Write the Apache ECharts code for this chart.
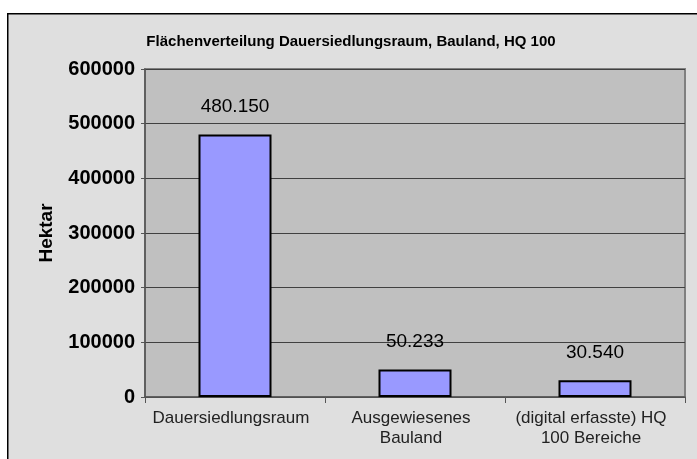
<!DOCTYPE html>
<html>
<head>
<meta charset="utf-8">
<script src="https://cdn.jsdelivr.net/npm/echarts@6/dist/echarts.min.js"></script>
<style>
  html, body { margin: 0; padding: 0; background: #ffffff; }
  #chart { width: 697px; height: 459px; }
</style>
</head>
<body>
<div id="chart"></div>
<script>
const categories = ['Dauersiedlungsraum', 'Ausgewiesenes\nBauland', '(digital erfasste) HQ\n100 Bereiche'];
const hektar = [480150, 50233, 30540];
const yTicks = [0, 100000, 200000, 300000, 400000, 500000, 600000];

// 480150 -> "480.150"
function germanNumber(v) {
  return String(v).replace(/\B(?=(\d{3})+(?!\d))/g, '.');
}

const chart = echarts.init(document.getElementById('chart'));
chart.setOption({
  backgroundColor: '#ffffff',
  animation: false,
  graphic: [{
    type: 'rect',
    left: 7, top: 13,
    shape: { width: 700, height: 460 },
    style: { fill: '#dfdfdf', stroke: '#000000', lineWidth: 1.5 },
    z: -10
  }],
  title: {
    text: 'Flächenverteilung Dauersiedlungsraum, Bauland, HQ 100',
    left: 346, top: 29, textAlign: 'center',
    textStyle: {
      fontFamily: 'Liberation Sans, Arial',
      fontWeight: 'bold', fontSize: 15, color: '#000'
    }
  },
  grid: {
    left: 145, right: 12, top: 69, bottom: 62,
    show: true, backgroundColor: '#c0c0c0',
    borderColor: '#808080', borderWidth: 2
  },
  xAxis: {
    type: 'category',
    data: categories,
    axisLine: { lineStyle: { color: '#555', width: 1.5 } },
    axisTick: { show: true, length: 6, lineStyle: { color: '#555' } },
    axisLabel: {
      fontFamily: 'Liberation Sans, Arial', fontSize: 17, color: '#222',
      lineHeight: 20, margin: 11, interval: 0, padding: [0, 8, 0, 0]
    }
  },
  yAxis: {
    type: 'value',
    min: yTicks[0], max: yTicks[yTicks.length - 1], interval: 100000,
    name: 'Hektar', nameLocation: 'middle', nameGap: 89,
    nameTextStyle: {
      fontFamily: 'Liberation Sans, Arial', fontWeight: 'bold', fontSize: 19, color: '#000'
    },
    axisLine: { show: true, lineStyle: { color: '#555', width: 1.5 } },
    axisTick: { show: true, length: 4, lineStyle: { color: '#555' } },
    splitLine: { lineStyle: { color: '#404040', width: 1 } },
    axisLabel: {
      fontFamily: 'Liberation Sans, Arial', fontWeight: 'bold', fontSize: 20, color: '#000',
      margin: 10, padding: [14, 0, 0, 0],
      formatter: v => String(v)
    }
  },
  series: [{
    type: 'bar',
    data: hektar,
    barWidth: 73,
    itemStyle: { color: '#9999ff', borderColor: '#000', borderWidth: 2 },
    label: {
      show: true, position: 'top', distance: 18,
      fontFamily: 'Liberation Sans, Arial', fontSize: 19, color: '#000',
      formatter: p => germanNumber(p.value)
    }
  }]
});
</script>
</body>
</html>
